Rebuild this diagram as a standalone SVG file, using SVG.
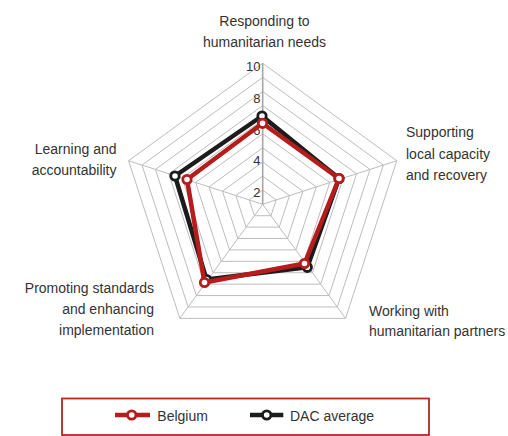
<svg xmlns="http://www.w3.org/2000/svg" xmlns:xlink="http://www.w3.org/1999/xlink" width="508" height="436" viewBox="0 0 508 436">
<style>
.lbl{font-family:"Liberation Sans",Arial,sans-serif;font-size:14px;fill:#333}
.tick{font-family:"Liberation Sans",Arial,sans-serif;font-size:13px;fill:#333;text-anchor:end}
.ring{fill:none;stroke:#bdbdbd;stroke-width:1}
.spoke{stroke:#bdbdbd;stroke-width:1}
.axis{stroke:#a6a6a6;stroke-width:1.6}
.ser{fill:none;stroke-width:4.5;stroke-linejoin:round}
.mk{fill:#fff;stroke-width:2.8}
.red{stroke:#b71c1c}
.blk{stroke:#1c1c1c}
</style>
<defs>
<polygon id="unit" points="0,-14.1 13.41,-4.357 8.288,11.407 -8.288,11.407 -13.41,-4.357" class="ring" vector-effect="non-scaling-stroke"/>
</defs>
<rect width="508" height="436" fill="#fff"/>
<g id="grid" transform="translate(262.7,204.3)">
<use xlink:href="#unit" transform="scale(1)"/>
<use xlink:href="#unit" transform="scale(2)"/>
<use xlink:href="#unit" transform="scale(3)"/>
<use xlink:href="#unit" transform="scale(4)"/>
<use xlink:href="#unit" transform="scale(5)"/>
<use xlink:href="#unit" transform="scale(6)"/>
<use xlink:href="#unit" transform="scale(7)"/>
<use xlink:href="#unit" transform="scale(8)"/>
<use xlink:href="#unit" transform="scale(9)"/>
<use xlink:href="#unit" transform="scale(10)"/>
<line class="spoke" x1="0" y1="0" x2="134.1" y2="-43.57"/>
<line class="spoke" x1="0" y1="0" x2="82.88" y2="114.07"/>
<line class="spoke" x1="0" y1="0" x2="-82.88" y2="114.07"/>
<line class="spoke" x1="0" y1="0" x2="-134.1" y2="-43.57"/>
<line class="axis" x1="0" y1="0" x2="0" y2="-141"/>
</g>
<g id="ticks">
<text class="tick" x="260.5" y="71">10</text>
<text class="tick" x="260.5" y="103.3">8</text>
<text class="tick" x="260.5" y="134.5">6</text>
<text class="tick" x="260.5" y="165">4</text>
<text class="tick" x="260.5" y="196.7">2</text>
</g>
<g id="connectors">
<g id="series-dac">
<polygon class="ser blk" points="262,116 339,178.5 307.3,267.3 206.5,279.5 175,176"/>
<circle class="mk blk" cx="262" cy="116" r="4.2"/>
<circle class="mk blk" cx="339" cy="178.5" r="4.2"/>
<circle class="mk blk" cx="307.3" cy="267.3" r="4.2"/>
<circle class="mk blk" cx="206.5" cy="279.5" r="4.2"/>
<circle class="mk blk" cx="175" cy="176" r="4.2"/>
</g>
<g id="series-belgium">
<polygon class="ser red" points="262.5,123.3 339,178.5 304.5,263.5 204.5,282.5 187,179.5"/>
<circle class="mk red" cx="262.5" cy="123.3" r="4.2"/>
<circle class="mk red" cx="339" cy="178.5" r="4.2"/>
<circle class="mk red" cx="304.5" cy="263.5" r="4.2"/>
<circle class="mk red" cx="204.5" cy="282.5" r="4.2"/>
<circle class="mk red" cx="187" cy="179.5" r="4.2"/>
</g>
</g>
<g id="node-responding">
<text class="lbl" x="264.5" y="25.5" text-anchor="middle">Responding to</text>
<text class="lbl" x="264.5" y="46.5" text-anchor="middle">humanitarian needs</text>
</g>
<g id="node-supporting">
<text class="lbl" x="406" y="137">Supporting</text>
<text class="lbl" x="406" y="158.5">local capacity</text>
<text class="lbl" x="406" y="180">and recovery</text>
</g>
<g id="node-working">
<text class="lbl" x="369" y="315.5">Working with</text>
<text class="lbl" x="369" y="336">humanitarian partners</text>
</g>
<g id="node-promoting">
<text class="lbl" x="154" y="293.3" text-anchor="end">Promoting standards</text>
<text class="lbl" x="154" y="314.3" text-anchor="end">and enhancing</text>
<text class="lbl" x="154" y="335" text-anchor="end">implementation</text>
</g>
<g id="node-learning">
<text class="lbl" x="116.5" y="154" text-anchor="end">Learning and</text>
<text class="lbl" x="116.5" y="174.5" text-anchor="end">accountability</text>
</g>
<g id="legend">
<rect x="62" y="398.5" width="367" height="36.5" fill="none" stroke="#b22a22" stroke-width="1.8"/>
<line class="red" x1="115" y1="415" x2="150" y2="415" stroke-width="4.5"/>
<circle class="mk red" cx="131.7" cy="415" r="4.2"/>
<text class="lbl" x="157.3" y="421">Belgium</text>
<line class="blk" x1="250" y1="415" x2="283.3" y2="415" stroke-width="4.5"/>
<circle class="mk blk" cx="266.7" cy="415" r="4.2"/>
<text class="lbl" x="290" y="421">DAC average</text>
</g>
</svg>
